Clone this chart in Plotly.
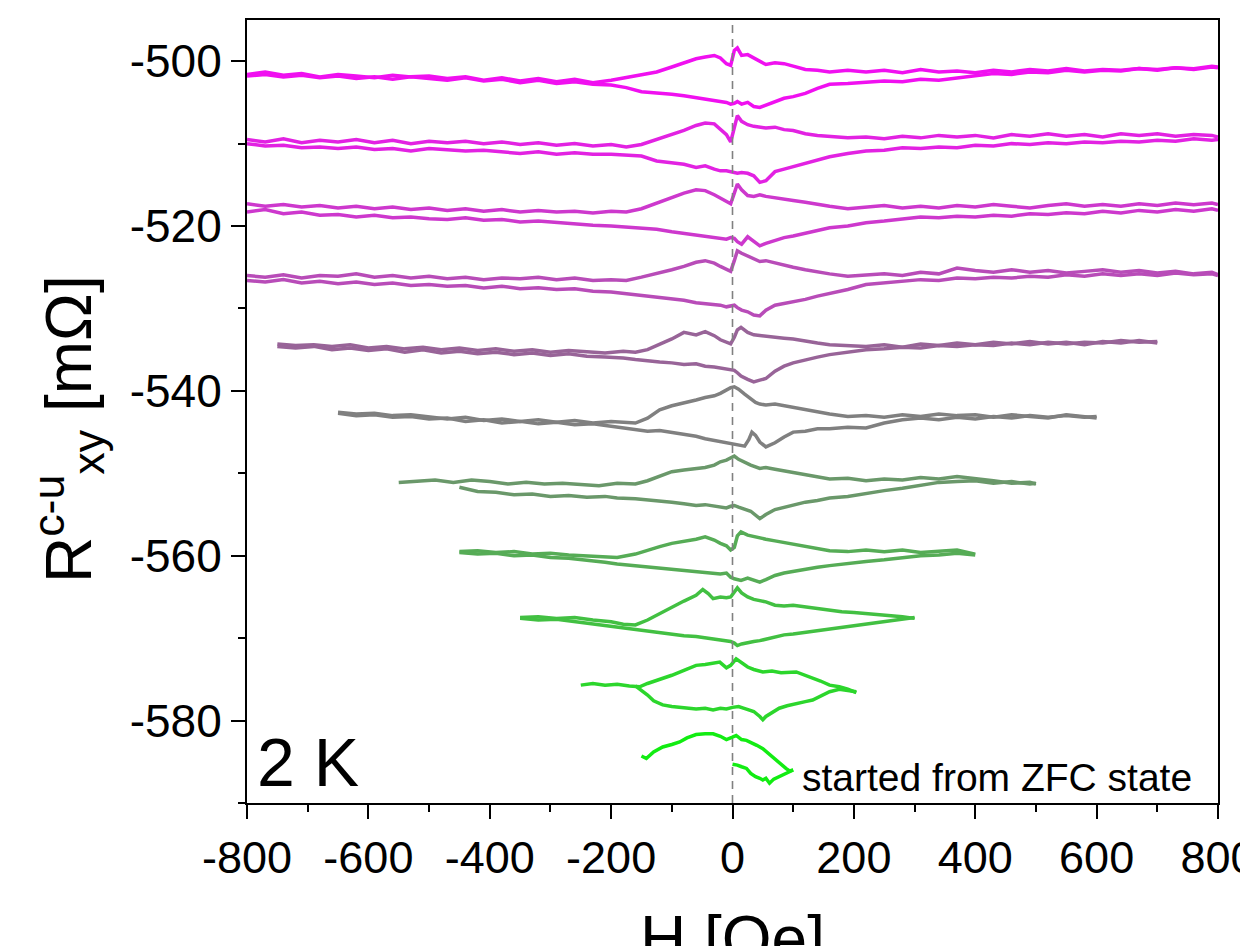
import plotly.graph_objects as go

# ---------------- data ----------------
# field grid for the four +/-800 Oe loops
H_BIG = [-800, -770, -740, -710, -680, -650, -620, -590, -560, -530, -500, -470, -440, -410, -380, -350, -320, -290, -260, -230, -200,
         -175, -150, -125, -100, -80, -60, -45, -30, -20, -10, -3, 3, 8, 15, 25, 35, 45, 55, 70, 85, 100, 120, 140, 160,
         190, 220, 250, 280, 310, 340, 370, 400, 430, 460, 490, 520, 550, 580, 610, 640, 670, 700, 730, 760, 790, 800]

R1_UP = [-501.6, -501.3, -501.7, -501.5, -501.9, -501.6, -501.8, -502.0, -501.7, -501.9, -501.8, -502.1, -501.9, -502.3, -502.0, -502.4, -502.1, -502.5, -502.2, -502.6, -502.3,
         -502.0, -501.7, -501.3, -500.7, -500.2, -499.7, -499.5, -499.3, -499.6, -500.3, -500.5, -498.7, -498.4, -499.3, -499.2, -499.6, -500.0, -500.4, -500.2, -500.3, -500.6, -501.0, -501.1, -501.3,
         -501.1, -501.3, -501.1, -501.4, -501.0, -501.3, -501.2, -501.4, -501.1, -501.3, -501.0, -501.2, -500.9, -501.2, -501.0, -501.1, -500.9, -501.1, -500.8, -501.0, -500.7, -500.8]
R1_DN = [-501.8, -501.6, -501.9, -501.7, -502.0, -501.8, -502.1, -501.9, -502.2, -501.9, -502.1, -502.3, -502.0, -502.4, -502.2, -502.6, -502.3, -502.7, -502.5, -502.8, -502.9,
         -503.2, -503.7, -503.8, -504.0, -504.2, -504.4, -504.6, -504.7, -504.9, -505.0, -505.2, -505.1, -504.9, -505.2, -505.0, -505.5, -505.6, -505.3, -504.9, -504.5, -504.3, -503.9, -503.3, -502.8,
         -502.7, -502.6, -502.4, -502.5, -502.2, -502.3, -502.0, -501.8, -501.5, -501.6, -501.3, -501.4, -501.1, -501.3, -501.1, -501.2, -500.9, -501.0, -500.8, -500.9, -500.6, -500.7]

R2_UP = [-509.5, -509.8, -509.4, -509.9, -509.6, -509.8, -509.5, -509.9, -509.6, -510.0, -509.7, -509.9, -509.7, -510.0, -509.8, -510.1, -509.9, -510.2, -510.0, -510.3, -510.1,
         -510.4, -510.1, -509.5, -508.8, -508.4, -507.8, -507.5, -507.6, -508.3, -508.9, -509.8, -508.0, -506.6, -507.3, -507.7, -507.9, -508.0, -508.1, -508.0, -508.3, -508.4, -508.8, -509.0, -509.1,
         -509.3, -509.2, -509.4, -509.1, -509.3, -509.0, -509.2, -509.0, -509.3, -508.9, -509.1, -508.8, -509.1, -508.9, -509.2, -508.8, -509.0, -508.8, -509.1, -508.9, -509.0, -509.2]
R2_DN = [-510.0, -510.3, -510.2, -510.5, -510.4, -510.6, -510.4, -510.7, -510.6, -510.9, -510.6, -510.8, -510.9, -510.8, -511.0, -511.2, -511.0, -511.3, -511.1, -511.3, -511.3,
         -511.4, -511.5, -512.1, -512.3, -512.5, -512.9, -512.7, -513.1, -513.3, -513.3, -513.4, -513.5, -513.6, -513.5, -513.6, -513.9, -514.7, -514.5, -513.4, -513.1, -512.8, -512.4, -512.0, -511.6,
         -511.2, -510.9, -510.8, -510.5, -510.6, -510.4, -510.5, -510.2, -510.3, -510.0, -510.1, -509.9, -510.0, -509.8, -509.9, -509.7, -509.8, -509.6, -509.7, -509.4, -509.6, -509.5]

R3_UP = [-517.3, -517.6, -517.4, -517.7, -517.5, -517.8, -517.6, -517.9, -517.7, -518.0, -517.8, -518.1, -517.9, -518.2, -518.0, -518.3, -518.1, -518.3, -518.2, -518.4, -518.2,
         -518.3, -517.9, -517.2, -516.5, -516.0, -515.6, -515.7, -516.2, -516.6, -517.1, -517.3, -516.0, -514.9, -515.6, -516.3, -516.4, -516.2, -516.4, -516.6, -516.7, -516.9, -517.1, -517.4, -517.6,
         -517.9, -517.7, -517.5, -517.8, -517.6, -517.8, -517.5, -517.7, -517.4, -517.6, -517.8, -517.5, -517.3, -517.6, -517.4, -517.6, -517.3, -517.5, -517.2, -517.4, -517.2, -517.4]
R3_DN = [-518.3, -518.0, -518.5, -518.3, -518.7, -518.6, -518.9, -518.7, -519.0, -518.9, -519.1, -519.2, -519.0, -519.3, -519.2, -519.5, -519.4, -519.6, -519.7, -519.9, -520.0,
         -520.1, -520.3, -520.4, -520.7, -520.9, -521.0, -521.2, -521.3, -521.4, -521.6, -521.4, -521.5, -521.9, -522.2, -521.3, -521.9, -522.4, -522.1, -521.7, -521.4, -521.2, -520.9, -520.5, -520.2,
         -520.0, -519.6, -519.4, -519.2, -518.9, -519.0, -518.8, -518.9, -518.7, -518.8, -518.5, -518.6, -518.4, -518.5, -518.2, -518.4, -518.1, -518.3, -518.0, -518.2, -517.9, -518.1]

R4_UP = [-526.0, -526.2, -525.9, -526.3, -526.0, -526.1, -525.8, -526.2, -526.0, -526.3, -526.1, -526.4, -526.2, -526.5, -526.3, -526.4, -526.2, -526.5, -526.3, -526.6, -526.5,
         -526.6, -526.2, -525.8, -525.3, -524.9, -524.4, -524.2, -524.5, -524.9, -525.2, -525.5, -524.2, -523.0, -523.3, -523.6, -523.9, -524.3, -524.2, -524.5, -524.8, -525.0, -525.3, -525.6, -525.8,
         -526.1, -526.0, -525.8, -526.0, -525.6, -525.8, -525.1, -525.4, -525.6, -525.3, -525.6, -525.4, -525.7, -525.5, -525.3, -525.6, -525.4, -525.7, -525.5, -525.8, -525.6, -525.9]
R4_DN = [-526.6, -526.8, -526.5, -526.9, -526.7, -527.0, -526.8, -527.1, -526.9, -527.2, -527.1, -527.3, -527.2, -527.5, -527.3, -527.6, -527.5, -527.7, -527.6, -527.9, -528.0,
         -528.2, -528.5, -528.6, -528.9, -529.0, -529.3, -529.4, -529.5, -529.6, -529.8, -529.7, -529.6, -529.9, -530.2, -530.4, -530.8, -530.9, -530.2, -529.6, -529.4, -529.2, -528.9, -528.5, -528.2,
         -527.7, -527.1, -526.9, -526.7, -526.5, -526.6, -526.3, -526.4, -526.2, -526.3, -526.1, -526.2, -525.9, -526.1, -525.8, -526.0, -525.8, -526.0, -525.7, -525.9, -525.8, -526.0]

# loop 5 (-750 .. 700 Oe)
H_5 = [-750, -720, -690, -660, -630, -600, -570, -540, -510, -480, -450, -420, -390, -360, -330, -300, -270, -240, -210, -180,
       -160, -140, -120, -100, -80, -60, -45, -30, -20, -10, -3, 3, 8, 14, 25, 35, 45, 55, 70, 85, 100, 120, 140, 160,
       190, 220, 250, 280, 310, 340, 370, 400, 430, 460, 490, 520, 550, 580, 610, 640, 670, 700]
R5_UP = [-534.3, -534.5, -534.4, -534.6, -534.4, -534.8, -534.6, -534.9, -534.7, -535.0, -534.8, -535.1, -534.9, -535.2, -535.0, -535.3, -535.1, -535.2, -535.4, -535.2,
         -535.3, -535.0, -534.4, -533.7, -532.9, -533.2, -532.8, -533.3, -533.8, -534.1, -534.3, -533.5, -532.6, -532.3, -532.9, -533.2, -533.3, -533.4, -533.5, -533.6, -533.7, -534.0, -534.2, -534.4,
         -534.5, -534.6, -534.4, -534.7, -534.3, -534.5, -534.2, -534.4, -534.1, -534.3, -534.0, -534.3, -534.1, -534.4, -534.0, -534.2, -533.9, -534.2]
R5_DN = [-534.6, -534.8, -534.6, -535.0, -534.8, -535.1, -534.9, -535.3, -535.0, -535.4, -535.2, -535.5, -535.3, -535.6, -535.4, -535.7, -535.5, -535.8, -535.9, -536.0,
         -536.2, -536.4, -536.5, -536.6, -536.8, -536.7, -537.0, -537.1, -537.2, -537.3, -537.4, -537.5, -537.8, -538.2, -538.6, -538.9, -538.7, -538.5, -537.6, -537.0, -536.6, -536.2, -535.9, -535.6,
         -535.3, -535.0, -534.9, -534.7, -534.8, -534.5, -534.6, -534.4, -534.5, -534.2, -534.4, -534.1, -534.3, -534.1, -534.2, -533.9, -534.1, -534.0]

# loop 6 (-650 .. 600 Oe)
H_6 = [-650, -620, -590, -560, -530, -500, -470, -440, -410, -380, -350, -320, -290, -260, -230, -200, -180,
       -160, -140, -120, -100, -80, -60, -45, -30, -20, -10, -3, 3, 10, 20, 27, 32, 38, 45, 55, 70, 85, 100, 120, 140, 160,
       190, 220, 250, 280, 310, 340, 370, 400, 430, 460, 490, 520, 550, 580, 600]
R6_UP = [-542.6, -542.8, -542.7, -543.0, -542.9, -543.1, -543.4, -543.2, -543.6, -543.4, -543.7, -543.5, -543.8, -543.6, -543.9, -543.7, -543.8,
         -543.9, -543.3, -542.3, -541.8, -541.5, -541.1, -540.8, -540.6, -540.3, -539.9, -539.6, -539.5, -539.8, -540.4, -540.8, -541.0, -541.4, -541.6, -541.7, -541.6, -541.8, -542.0, -542.3, -542.6, -542.8,
         -543.1, -543.0, -543.2, -542.9, -543.1, -542.8, -543.0, -542.9, -543.2, -542.9, -543.1, -543.3, -542.9, -543.1, -543.3]
R6_DN = [-542.7, -543.0, -542.9, -543.2, -543.1, -543.4, -543.3, -543.7, -543.5, -543.9, -543.7, -544.0, -543.8, -544.1, -544.0, -544.3, -544.5,
         -544.7, -544.9, -544.8, -545.0, -545.3, -545.5, -545.8, -546.0, -546.1, -546.3, -546.4, -546.5, -546.6, -546.7, -545.9, -545.0, -545.4, -546.2, -546.8, -546.3, -545.6, -545.0, -544.9, -544.6, -544.6,
         -544.4, -544.5, -543.9, -543.5, -543.3, -543.5, -543.2, -543.4, -543.1, -543.3, -543.0, -543.2, -543.0, -543.2, -543.1]

# loop 7 (upper branch from -550, lower branch from -450, up to 500 Oe)
H_7_UP = [-550, -520, -490, -460, -430, -400, -370, -340, -310, -280, -250, -220, -190,
          -160, -140, -120, -100, -80, -60, -45, -30, -20, -10, -3, 3, 10, 20, 30, 45, 55, 70, 85, 100, 120, 140, 160,
          190, 220, 250, 280, 310, 340, 370, 400, 430, 460, 490, 500]
R7_UP = [-551.1, -551.0, -550.8, -551.1, -550.8, -551.0, -551.3, -551.1, -551.3, -551.2, -551.4, -551.5, -551.2,
         -551.3, -550.9, -550.3, -549.8, -549.6, -549.4, -549.3, -549.0, -548.6, -548.4, -548.1, -547.9, -548.3, -548.7, -549.0, -549.4, -549.3, -549.5, -549.7, -549.8, -550.1, -550.4, -550.7,
         -550.6, -550.9, -550.7, -550.8, -550.5, -550.7, -550.4, -550.6, -550.9, -551.2, -551.1, -551.3]
H_7_DN = [-450, -420, -390, -360, -330, -300, -270, -240, -210, -190,
          -160, -140, -120, -100, -80, -60, -45, -30, -20, -10, -3, 3, 10, 20, 30, 45, 55, 70, 85, 100, 120, 140, 160,
          190, 220, 250, 280, 310, 340, 370, 400, 430, 460, 490, 500]
R7_DN = [-551.7, -552.2, -552.3, -552.6, -552.5, -552.8, -552.7, -552.9, -552.8, -553.0,
         -553.1, -553.2, -553.4, -553.5, -553.7, -553.9, -553.8, -554.0, -554.1, -554.2, -554.0, -553.9, -554.1, -554.3, -554.6, -555.5, -555.0, -554.4, -554.1, -553.8, -553.5, -553.3, -553.0,
         -552.8, -552.4, -552.1, -551.8, -551.5, -551.1, -551.0, -550.9, -551.2, -551.0, -551.3, -551.2]

# loop 8 (-450 .. 400 Oe)
H_8 = [-450, -420, -390, -360, -330, -300, -270, -240, -210, -190,
       -160, -140, -120, -100, -80, -60, -45, -30, -20, -10, -3, 3, 8, 14, 25, 35, 45, 55, 70, 85, 100, 120, 140, 160,
       190, 220, 250, 280, 310, 340, 370, 400]
R8_UP = [-559.5, -559.4, -559.6, -559.5, -559.8, -559.7, -559.9, -560.0, -560.1, -560.2,
         -559.8, -559.3, -558.9, -558.5, -558.3, -558.0, -557.7, -558.1, -558.5, -558.8, -559.3, -559.0, -557.6, -557.1, -557.5, -557.7, -557.8, -558.0, -558.2, -558.4, -558.5, -558.8, -559.1, -559.4,
         -559.5, -559.3, -559.5, -559.3, -559.6, -559.4, -559.3, -559.8]
R8_DN = [-559.6, -559.8, -559.7, -560.0, -559.9, -560.2, -560.3, -560.5, -560.8, -561.0,
         -561.2, -561.4, -561.5, -561.7, -561.8, -561.9, -562.0, -562.1, -562.2, -562.1, -562.6, -562.8, -562.9, -563.0, -562.7, -563.0, -563.2, -562.9, -562.4, -562.1, -561.9, -561.6, -561.4, -561.2,
         -560.9, -560.7, -560.5, -560.2, -560.0, -559.9, -559.7, -559.9]

# loop 9 (-350 .. 300 Oe)
H_9 = [-350, -320, -290, -260, -230, -200, -180,
       -160, -140, -120, -100, -80, -60, -49, -40, -32, -20, -10, -3, 3, 8, 15, 25, 35, 45, 55, 70, 85, 100, 120, 140, 160,
       180, 200, 220, 240, 260, 280, 300]
R9_UP = [-567.5, -567.4, -567.6, -567.5, -567.8, -568.0, -568.3,
         -568.4, -567.8, -567.0, -566.3, -565.5, -564.8, -564.1, -564.6, -565.2, -565.0, -565.1, -565.0, -564.4, -563.9, -564.5, -565.0, -565.3, -565.4, -565.6, -566.0, -566.1, -566.0, -566.2, -566.5, -566.7,
         -566.8, -566.9, -567.0, -567.1, -567.3, -567.4, -567.6]
R9_DN = [-567.6, -567.8, -567.7, -568.0, -568.3, -568.6, -568.8,
         -569.0, -569.1, -569.3, -569.5, -569.7, -569.8, -569.9, -570.0, -570.1, -570.2, -570.3, -570.4, -570.6, -570.9, -570.7, -570.5, -570.4, -570.3, -570.1, -569.8, -569.6, -569.5, -569.3, -569.0, -568.8,
         -568.6, -568.4, -568.2, -568.0, -567.8, -567.6, -567.5]

# loop 10 (-250 .. 200 Oe)
H_10_UP = [-250, -230, -210, -190, -170, -153, -140, -115, -100, -80, -60, -45, -32, -21, -10, -3, 6, 15, 25, 35,
           50, 65, 80, 105, 125, 145, 160, 176, 190, 204]
R10_UP = [-575.7, -575.5, -575.7, -575.6, -575.8, -575.9, -575.5, -574.9, -574.5, -573.9, -573.3, -573.2, -573.0, -572.9, -573.6, -573.3, -572.5, -573.0, -573.5, -573.8,
          -574.1, -574.0, -574.2, -574.1, -574.6, -575.2, -575.7, -575.9, -576.2, -576.6]
H_10_DN = [-160, -150, -140, -130, -115, -100, -80, -60, -45, -32, -20, -10, 0, 10, 23, 35, 45, 50, 55, 65,
           77, 90, 105, 120, 132, 145, 160, 176, 190, 204]
R10_DN = [-575.8, -576.3, -576.9, -577.6, -578.1, -578.3, -578.4, -578.6, -578.5, -578.7, -578.5, -578.6, -578.4, -578.3, -578.6, -578.9, -579.5, -579.9, -579.5, -579.0,
          -578.5, -578.2, -578.0, -577.7, -577.5, -577.0, -576.5, -576.2, -576.4, -576.5]

# loop 11 (started from ZFC state: 0 -> 100 -> -150 Oe)
H_11_DN = [0, 8, 15, 23, 30, 38, 45, 50, 55, 61, 68, 77, 85, 94, 100]
R11_DN = [-585.3, -585.4, -585.6, -585.8, -586.4, -586.8, -587.0, -587.2, -587.0, -587.6, -587.1, -586.8, -586.5, -586.2, -586.0]
H_11_UP = [100, 94, 88, 80, 70, 60, 50, 40, 30, 23, 15, 6, 0, -10, -20, -32, -45, -60, -75, -87, -100, -115, -130, -142, -150]
R11_UP = [-586.0, -586.1, -585.8, -585.3, -584.6, -584.0, -583.4, -583.0, -582.6, -582.4, -582.3, -581.8, -582.0, -582.3, -581.9, -581.6, -581.6, -581.7, -582.1, -582.6, -582.9, -583.2, -583.8, -584.6, -584.3]

LOOP_COLORS = ["rgb(240,16,240)", "rgb(226,34,226)", "rgb(205,56,205)", "rgb(184,76,184)", "rgb(152,100,152)",
               "rgb(128,128,128)", "rgb(106,152,106)", "rgb(86,172,86)", "rgb(66,192,66)", "rgb(44,214,44)", "rgb(18,236,18)"]

X_TICKS = [-800, -600, -400, -200, 0, 200, 400, 600, 800]
Y_TICKS = [-580, -560, -540, -520, -500]

# ---------------- figure ----------------
branches = [
    (H_BIG, R1_UP, 0), (H_BIG, R1_DN, 0),
    (H_BIG, R2_UP, 1), (H_BIG, R2_DN, 1),
    (H_BIG, R3_UP, 2), (H_BIG, R3_DN, 2),
    (H_BIG, R4_UP, 3), (H_BIG, R4_DN, 3),
    (H_5, R5_UP, 4), (H_5, R5_DN, 4),
    (H_6, R6_UP, 5), (H_6, R6_DN, 5),
    (H_7_UP, R7_UP, 6), (H_7_DN, R7_DN, 6),
    (H_8, R8_UP, 7), (H_8, R8_DN, 7),
    (H_9, R9_UP, 8), (H_9, R9_DN, 8),
    (H_10_UP, R10_UP, 9), (H_10_DN, R10_DN, 9),
    (H_11_DN, R11_DN, 10), (H_11_UP, R11_UP, 10),
]

fig = go.Figure()
for hx, ry, ci in branches:
    assert len(hx) == len(ry), (len(hx), len(ry), ci)
    fig.add_trace(go.Scatter(x=hx, y=ry, mode="lines",
                             line=dict(color=LOOP_COLORS[ci], width=3.5),
                             showlegend=False, hoverinfo="skip"))

FONT = "Liberation Sans, Arial, sans-serif"

fig.add_shape(type="line", x0=0, x1=0, xref="x", y0=0, y1=1, yref="paper",
              line=dict(color="rgb(128,128,128)", width=1.6, dash="8px,6px"))

fig.update_layout(
    width=1240, height=946,
    margin=dict(l=247, r=22, t=20, b=143, autoexpand=False),
    paper_bgcolor="white", plot_bgcolor="white",
    font=dict(family=FONT, color="black"),
    xaxis=dict(range=[-800, 800], tickvals=X_TICKS, ticktext=[str(v) for v in X_TICKS],
               ticks="outside", ticklen=14, tickwidth=2, tickcolor="black",
               ticklabeloverflow="allow", automargin=False,
               minor=dict(ticks="outside", ticklen=7, tickwidth=2, tickcolor="black", dtick=100, tick0=0),
               showline=True, linewidth=2, linecolor="black", mirror=True,
               showgrid=False, zeroline=False, tickfont=dict(size=45, family=FONT)),
    yaxis=dict(range=[-590, -495], tickvals=Y_TICKS, ticktext=[str(v) for v in Y_TICKS],
               ticks="outside", ticklen=14, tickwidth=2, tickcolor="black", automargin=False,
               minor=dict(ticks="outside", ticklen=7, tickwidth=2, tickcolor="black", dtick=10, tick0=0),
               showline=True, linewidth=2, linecolor="black", mirror=True,
               showgrid=False, zeroline=False, tickfont=dict(size=46, family=FONT)),
)

fig.add_annotation(text="H [Oe]", xref="paper", yref="paper", x=0.5, y=-0.125,
                   xanchor="center", yanchor="top", showarrow=False,
                   font=dict(size=64, family=FONT, color="black"))
fig.add_annotation(text="R<sup>c-u</sup><sub>xy</sub> [mΩ]", xref="paper", yref="paper",
                   x=-0.185, y=0.478, xanchor="center", yanchor="middle", textangle=-90,
                   showarrow=False, font=dict(size=64, family=FONT, color="black"))
fig.add_annotation(text="2 K", xref="paper", yref="paper", x=0.008, y=0.052,
                   xanchor="left", yanchor="middle", showarrow=False,
                   font=dict(size=68, family=FONT, color="black"))
fig.add_annotation(text="started from ZFC state", xref="paper", yref="paper", x=0.570, y=0.033,
                   xanchor="left", yanchor="middle", showarrow=False,
                   font=dict(size=39, family=FONT, color="black"))

fig.write_html("out.html")
